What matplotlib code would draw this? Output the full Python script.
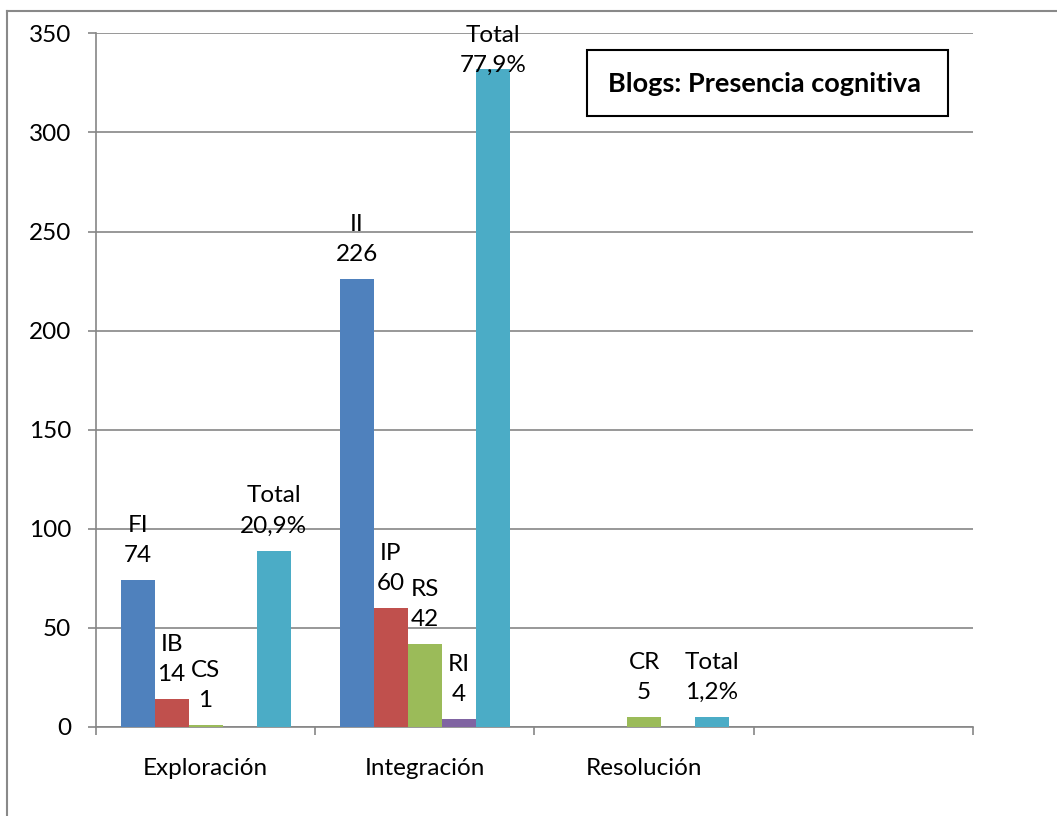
import matplotlib.pyplot as plt
import numpy as np
from matplotlib.patches import Rectangle
from matplotlib.lines import Line2D

plt.rcParams['font.family'] = ['Lato', 'DejaVu Sans']

# categorías del eje x (la cuarta va vacía)
categorias = ['Exploración', 'Integración', 'Resolución', '']

# frecuencias por indicador
serie_1 = [74, 226, 0, 0]
serie_2 = [14, 60, 0, 0]
serie_3 = [1, 42, 5, 0]
serie_4 = [0, 4, 0, 0]
totales = [89, 332, 5, 0]

# códigos de cada indicador
cod_1 = ['FI', 'II', '', '']
cod_2 = ['IB', 'IP', '', '']
cod_3 = ['CS', 'RS', 'CR', '']
cod_4 = ['', 'RI', '', '']

colores = ['#4F81BD', '#C0504D', '#9BBB59', '#8064A2', '#4BACC6']
gris = '#868686'
fs = 17.5

fig = plt.figure(figsize=(10.57, 8.16), dpi=100)
ax = fig.add_axes([0.0908, 0.1091, 0.8297, 0.85])

x = np.arange(len(categorias))
ancho = 0.155
series = [serie_1, serie_2, serie_3, serie_4, totales]
codigos = [cod_1, cod_2, cod_3, cod_4]

suma = sum(totales)
for i, (vals, col) in enumerate(zip(series, colores)):
    pos = x + (i - 2) * ancho
    ax.bar(pos, vals, width=ancho, color=col, zorder=3)
    for j, v in enumerate(vals):
        if i < 4:
            if not codigos[i][j]:
                continue
            txt = f'{codigos[i][j]}\n{v}'
        else:
            if v == 0:
                continue
            pct = f'{v / suma * 100:.1f}'.replace('.', ',')
            txt = f'Total\n{pct}%'
        dy = 10
        if v > 300:
            dy = -5  # etiqueta que no cabe encima del área
        ax.annotate(txt, (pos[j], v), xytext=(0, dy), textcoords='offset points',
                    ha='center', va='bottom', fontsize=fs, linespacing=1.55,
                    zorder=4)

ax.set_xlim(-0.5, len(categorias) - 0.5)
ax.set_ylim(0, 350)
ax.set_yticks(np.arange(0, 351, 50))
ax.grid(axis='y', color=gris, linewidth=1.2, zorder=0)

# marcas en los límites de categoría y nombres centrados
ax.set_xticks(np.arange(-0.5, len(categorias), 1))
ax.set_xticklabels([])
ax.set_xticks(x, minor=True)
ax.set_xticklabels(categorias, minor=True, fontsize=fs)
ax.tick_params(axis='x', which='minor', length=0, pad=22)
ax.tick_params(axis='x', which='major', direction='out', length=6, width=1.2, color=gris)
ax.tick_params(axis='y', direction='out', length=6, width=1.2, color=gris, labelsize=fs, pad=12)

for s in ['top', 'right']:
    ax.spines[s].set_visible(False)
for s in ['left', 'bottom']:
    ax.spines[s].set_color(gris)
    ax.spines[s].set_linewidth(1.2)

# recuadro del título
fig.add_artist(Rectangle((587 / 1057, 1 - 116 / 816), 361 / 1057, 66 / 816,
                         transform=fig.transFigure, fill=False,
                         edgecolor='black', linewidth=1.5))
fig.text(765 / 1057, 1 - 84 / 816, 'Blogs: Presencia cognitiva', ha='center', va='center',
         fontsize=19.5, fontweight='bold')

# marco exterior del gráfico
fig.add_artist(Line2D([7 / 1057, 7 / 1057], [0, 1 - 11 / 816], transform=fig.transFigure,
                      color='#898989', linewidth=1.5))
fig.add_artist(Line2D([7 / 1057, 1], [1 - 11 / 816, 1 - 11 / 816], transform=fig.transFigure,
                      color='#898989', linewidth=1.5))

plt.savefig('out.png', dpi=100)
